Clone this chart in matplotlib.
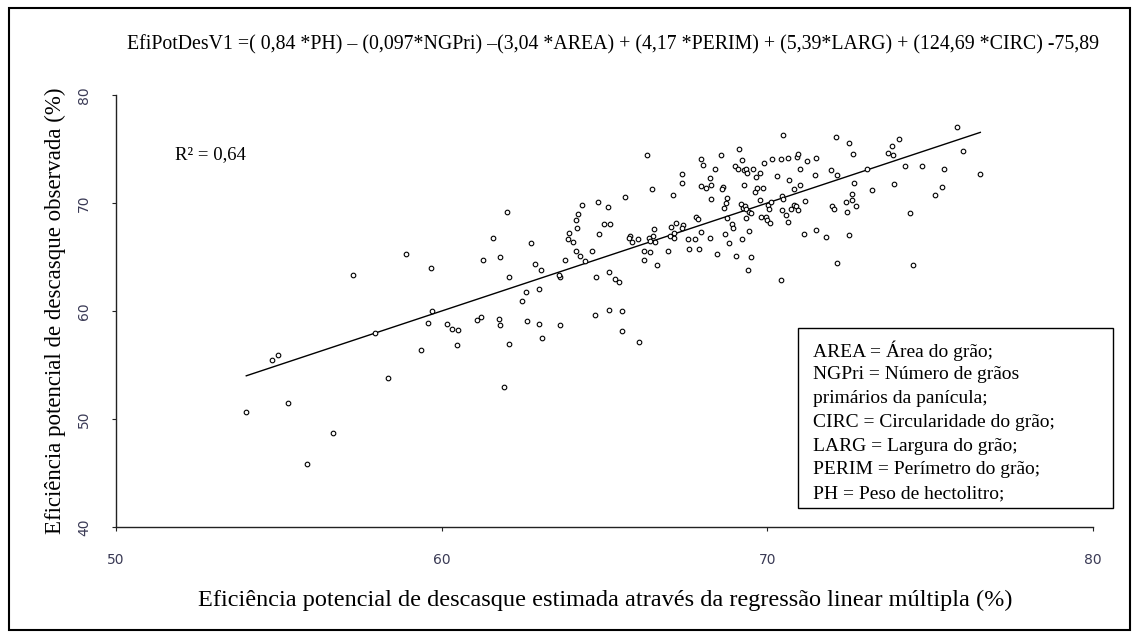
import matplotlib
matplotlib.use("Agg")
import matplotlib.pyplot as plt
from matplotlib.patches import Rectangle

# ---------------- data ----------------
est = [57.29, 54.78, 54.97, 57.95, 58.34, 53.99, 55.28, 56.65, 55.87,
       58.90, 59.67, 61.57, 62.73, 61.28, 61.80, 62.07, 62.86, 63.06, 62.58, 62.47, 62.98,
       59.71, 59.57, 59.36, 60.15, 60.31, 60.51, 60.47, 61.09, 61.22, 61.76, 61.80, 62.07,
       61.91, 62.62, 62.98, 63.09, 63.64, 63.64, 63.60, 63.80, 63.92, 64.15, 64.11, 63.87,
       64.03, 64.11, 64.24, 64.40, 64.61, 64.82, 65.00, 65.17, 64.74, 65.13, 65.33, 65.44,
       64.70, 65.13, 65.53, 65.53, 66.07,
       70.49, 72.12, 72.51, 72.62, 66.30, 69.13, 68.58, 67.95, 68.03, 69.21, 69.00, 69.09,
       69.29, 69.36, 69.38, 69.56, 69.79, 69.91, 70.15, 70.43, 70.62, 70.91, 70.94, 71.21,
       71.48, 71.01, 71.94, 72.15, 71.45, 70.30, 70.66, 69.65, 69.63, 69.69, 69.87, 69.29,
       68.39, 68.23, 67.39, 67.37, 67.95, 68.11, 68.27, 68.65, 68.62, 67.09, 66.47, 65.64,
       68.27, 68.77, 68.72, 68.67, 68.75, 69.19, 69.25, 69.31, 69.36, 69.44, 69.49, 69.36,
       69.76, 70.02, 70.04, 69.80, 69.95, 69.98, 70.07, 70.10, 70.46, 70.48, 70.44, 70.58,
       70.62, 70.73, 70.81, 70.89, 70.95, 70.82, 70.99, 71.16, 71.99, 72.05, 72.59, 72.67,
       72.43, 72.59, 72.71, 72.46, 73.06, 71.13, 71.48, 71.79, 72.50, 72.15, 70.42, 69.40,
       69.49, 69.05, 69.21, 69.45, 68.82, 68.70, 68.91, 68.95, 68.46, 68.23, 67.95, 67.89,
       67.60, 67.57, 67.77, 67.81, 67.87, 67.42, 67.38, 67.21, 67.05, 67.12, 67.01, 67.13,
       66.94, 66.51, 66.49, 66.56, 66.36, 66.41, 66.04, 65.78, 65.76, 65.84, 66.21, 66.39,
       66.22, 66.62,
       75.83, 76.00, 76.54, 74.04, 73.84, 73.71, 73.85, 74.24, 74.74, 75.41, 73.20, 73.88,
       75.37, 75.14, 74.39, 74.46,
       64.30, 64.20, 64.80, 65.10, 62.00]
obs = [63.36, 55.43, 55.90, 57.93, 53.83, 50.65, 51.45, 48.67, 45.86,
       65.25, 63.95, 66.76, 66.27, 64.75, 65.00, 63.12, 64.32, 63.83, 61.73, 60.93, 62.07,
       59.97, 58.92, 56.36, 58.83, 58.36, 58.24, 56.82, 59.17, 59.42, 59.29, 58.68, 56.94,
       52.99, 59.04, 58.80, 57.53, 58.68, 63.12, 63.36, 64.75, 67.19, 67.69, 68.43, 66.64,
       66.39, 65.58, 65.12, 64.63, 65.58, 67.10, 68.03, 68.03, 63.12, 63.58, 63.00, 62.69,
       59.63, 60.09, 60.00, 58.12, 57.16,
       76.32, 76.08, 75.58, 74.56, 74.44, 75.03, 74.47, 74.07, 73.52, 73.98, 73.43, 73.12,
       73.06, 73.18, 72.81, 73.18, 72.81, 73.73, 74.10, 74.10, 74.20, 74.26, 74.56, 73.86,
       74.20, 73.18, 73.03, 72.56, 72.56, 72.47, 72.10, 72.44, 71.05, 71.39, 71.39, 71.64,
       73.15, 72.34, 72.71, 71.88, 71.54, 71.39, 71.64, 71.51, 71.27, 70.71, 71.30, 70.58,
       70.37, 70.49, 70.03, 69.54, 68.64, 69.91, 69.54, 69.75, 69.47, 69.19, 69.07, 68.64,
       70.25, 69.79, 69.42, 68.73, 68.68, 68.43, 68.18, 70.12, 70.68, 70.34, 69.32, 68.86,
       68.24, 69.44, 69.84, 69.75, 69.35, 71.27, 71.64, 70.16, 69.69, 69.47, 70.86, 71.88,
       70.06, 70.28, 69.75, 69.19, 73.15, 67.10, 67.47, 66.88, 67.00, 64.42, 62.90, 63.83,
       65.03, 65.12, 66.64, 67.44, 66.27, 67.10, 68.03, 67.66, 65.25, 66.76, 67.31, 65.71,
       65.71, 66.64, 66.64, 68.73, 68.49, 67.96, 67.71, 68.12, 67.81, 67.19, 66.94, 66.76,
       65.58, 67.56, 66.98, 66.39, 66.79, 66.48, 66.64, 66.94, 66.73, 66.42, 65.58, 65.43,
       64.75, 64.29,
       77.01, 74.79, 72.71, 75.95, 75.28, 74.60, 74.42, 73.40, 73.40, 73.15, 71.18, 71.76,
       71.51, 70.71, 69.07, 64.29,
       69.80, 69.00, 70.10, 69.60, 69.20]

fit_x = [54.0, 76.54]
fit_y = [54.0, 76.54]

x_ticks = [50, 60, 70, 80]
y_ticks = [40, 50, 60, 70, 80]

title = ("EfiPotDesV1 =( 0,84 *PH) – (0,097*NGPri) –(3,04 *AREA) + (4,17 *PERIM) + "
         "(5,39*LARG) + (124,69 *CIRC) -75,89")
xlabel = "Eficiência potencial de descasque estimada através da regressão linear múltipla (%)"
ylabel = "Eficiência potencial de descasque observada (%)"
r2_text = "R² = 0,64"
legend_lines = ["AREA = Área do grão;",
                "NGPri = Número de grãos",
                "primários da panícula;",
                "CIRC = Circularidade do grão;",
                "LARG = Largura do grão;",
                "PERIM = Perímetro do grão;",
                "PH = Peso de hectolitro;"]

# ---------------- figure ----------------
W, H = 1139, 637
fig = plt.figure(figsize=(W / 100, H / 100), dpi=100)
fig.patch.set_facecolor("white")
serif = ["Liberation Serif", "DejaVu Serif"]

ax = fig.add_axes([116 / W, 1 - 527 / H, (1093 - 116) / W, (527 - 95) / H])
ax.scatter(est, obs, s=11, facecolors="white", edgecolors="black", linewidths=0.8, zorder=3)
ax.plot(fit_x, fit_y, color="black", lw=1.0, zorder=2)

ax.set_xlim(50, 80)
ax.set_ylim(40, 80)
ax.set_xticks(x_ticks)
ax.set_yticks(y_ticks)
for s in ["top", "right"]:
    ax.spines[s].set_visible(False)
for s in ["left", "bottom"]:
    ax.spines[s].set_color("#222222")
    ax.spines[s].set_linewidth(1.0)
ax.tick_params(axis="both", direction="out", length=3, width=0.8, color="#222222",
               labelsize=10, labelcolor="#3a3a55")
ax.tick_params(axis="x", pad=16)
ax.tick_params(axis="y", pad=15)
for lab in ax.get_yticklabels():
    lab.set_rotation(90)
    lab.set_va("center")

# axis labels
fig.text(605 / W, 1 - 600 / H, xlabel, ha="center", va="center", fontsize=17.5, family=serif)
fig.text(55 / W, 1 - 311 / H, ylabel, ha="center", va="center", rotation=90,
         fontsize=16.5, family=serif)

# title (equation)
fig.text(613 / W, 1 - 45 / H, title, ha="center", va="center", fontsize=14.3, family=serif)

# R2
ax.text(51.8, 74.5, r2_text, ha="left", va="center", fontsize=13.5, family=serif)

# legend box
box_l, box_t, box_r, box_b = 70.93, 58.43, 80.6, 41.8
ax.add_patch(Rectangle((box_l, box_b), box_r - box_l, box_t - box_b, fill=False,
                       edgecolor="black", lw=1.0, clip_on=False, zorder=4))
step = 23.8 / 10.8
for i, line in enumerate(legend_lines):
    ax.text(71.4, 56.3 - i * step, line, ha="left", va="center", fontsize=14,
            family=serif, clip_on=False)

# outer border
fig.add_artist(Rectangle((9 / W, 1 - 630 / H), (1130 - 9) / W, (630 - 8) / H,
                         transform=fig.transFigure, fill=False, edgecolor="black", lw=1.5))

fig.savefig("out.png", dpi=100, facecolor="white")
